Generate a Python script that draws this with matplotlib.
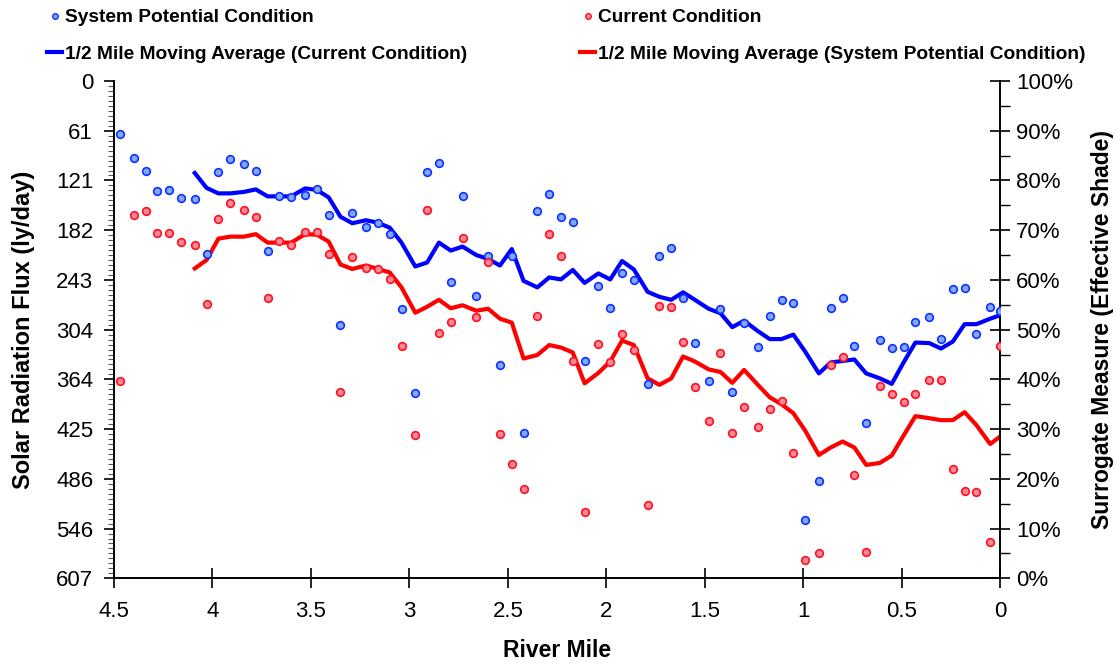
import matplotlib
matplotlib.use('Agg')
import matplotlib.pyplot as plt
import numpy as np
from matplotlib.lines import Line2D
from matplotlib.ticker import FixedLocator, FuncFormatter

plt.rcParams['font.family'] = ['Liberation Sans', 'DejaVu Sans']

# River mile of each sample (about 100 m apart).
miles = [4.47, 4.40, 4.34, 4.28, 4.22, 4.16, 4.09, 4.03, 3.97, 3.91,
         3.84, 3.78, 3.72, 3.66, 3.60, 3.53, 3.47, 3.41, 3.35, 3.29,
         3.22, 3.16, 3.10, 3.04, 2.97, 2.91, 2.85, 2.79, 2.73, 2.66,
         2.60, 2.54, 2.48, 2.42, 2.35, 2.29, 2.23, 2.17, 2.11, 2.04,
         1.98, 1.92, 1.86, 1.79, 1.73, 1.67, 1.61, 1.55, 1.48, 1.42,
         1.36, 1.30, 1.23, 1.17, 1.11, 1.05, 0.99, 0.92, 0.86, 0.80,
         0.74, 0.68, 0.61, 0.55, 0.49, 0.43, 0.36, 0.30, 0.24, 0.18,
         0.12, 0.05, 0.00]

# Effective shade (%) - system potential condition
shade_potential = [89.3, 84.5, 81.9, 77.8, 78.1, 76.4, 76.2, 65.3, 81.6, 84.3,
                   83.3, 81.9, 65.8, 76.9, 76.6, 77.1, 78.2, 73.1, 51.0, 73.5,
                   70.6, 71.4, 69.2, 54.1, 37.3, 81.8, 83.5, 59.6, 76.9, 56.7,
                   64.9, 42.8, 64.9, 29.2, 73.8, 77.3, 72.6, 71.6, 43.7, 58.8,
                   54.3, 61.3, 60.0, 39.0, 64.8, 66.4, 56.4, 47.3, 39.7, 54.2,
                   37.5, 51.4, 46.6, 52.7, 56.0, 55.4, 11.7, 19.6, 54.4, 56.3,
                   46.8, 31.2, 47.9, 46.3, 46.6, 51.5, 52.5, 48.2, 58.2, 58.4,
                   49.1, 54.6, 53.7]

# Effective shade (%) - current condition
shade_current = [39.7, 73.1, 73.8, 69.5, 69.5, 67.6, 67.0, 55.1, 72.2, 75.5,
                 74.1, 72.7, 56.3, 67.9, 67.0, 69.6, 69.6, 65.3, 37.5, 64.6,
                 62.3, 62.2, 60.2, 46.8, 28.8, 74.1, 49.4, 51.5, 68.4, 52.5,
                 63.7, 29.0, 22.9, 17.9, 52.7, 69.2, 64.8, 43.7, 13.4, 47.1,
                 43.4, 49.1, 46.0, 14.8, 54.8, 54.6, 47.5, 38.5, 31.6, 45.4,
                 29.2, 34.4, 30.4, 34.0, 35.7, 25.2, 3.7, 5.1, 42.9, 44.5,
                 20.7, 5.3, 38.7, 37.1, 35.4, 37.1, 39.9, 39.9, 21.9, 17.6,
                 17.4, 7.2, 46.8]

# 1/2 mile moving averages (first six samples have no average)
avg_blue = [None, None, None, None, None, None, 81.5, 78.5, 77.4, 77.4,
            77.7, 78.2, 76.8, 76.8, 76.8, 78.4, 78.1, 76.6, 72.7, 71.4,
            72.0, 71.5, 70.5, 67.5, 62.7, 63.5, 67.5, 65.9, 66.7, 65.0,
            64.2, 62.9, 66.2, 59.8, 58.5, 60.5, 60.1, 62.0, 59.4, 61.3,
            60.1, 63.8, 62.1, 57.6, 56.6, 56.0, 57.5, 56.0, 54.2, 53.3,
            50.5, 51.8, 49.7, 48.1, 48.1, 49.0, 45.6, 41.2, 43.4, 43.7,
            44.0, 41.2, 40.2, 39.1, 43.4, 47.4, 47.3, 46.2, 47.6, 51.1,
            51.1, 52.2, 52.9]

avg_red = [None, None, None, None, None, None, 62.3, 64.0, 68.3, 68.7,
           68.7, 69.2, 67.5, 67.5, 67.5, 69.2, 69.1, 67.7, 63.1, 62.2,
           62.9, 62.2, 61.5, 58.5, 53.4, 54.6, 56.0, 54.3, 54.9, 53.8,
           54.2, 52.2, 51.4, 44.2, 44.9, 46.9, 46.4, 45.4, 39.2, 41.3,
           43.6, 47.8, 46.9, 40.2, 38.9, 40.2, 44.6, 43.6, 42.0, 41.5,
           39.3, 41.9, 38.9, 36.4, 35.0, 33.2, 29.7, 24.8, 26.3, 27.5,
           26.3, 22.8, 23.2, 24.7, 28.7, 32.6, 32.2, 31.8, 31.8, 33.4,
           30.8, 27.0, 28.5]

flux_max = 607
flux_ticks = [0, 61, 121, 182, 243, 304, 364, 425, 486, 546, 607]

fig = plt.figure(figsize=(11.17, 6.65), dpi=100)
ax = fig.add_axes([0.1021, 0.1304, 0.7932, 0.7478])
ax2 = ax.twinx()

# left axis: flux, zero at top
ax.set_xlim(4.5, 0)
ax.set_ylim(flux_max, 0)
ax.yaxis.set_major_locator(FixedLocator(np.linspace(0, flux_max, 11)))
ax.set_yticklabels([str(t) for t in flux_ticks])
ax.yaxis.set_minor_locator(FixedLocator(np.linspace(0, flux_max, 101)))
ax.set_xticks(np.arange(0, 4.51, 0.5))
ax.set_xticklabels(['0', '0.5', '1', '1.5', '2', '2.5', '3', '3.5', '4', '4.5'])
ax.tick_params(axis='y', which='major', direction='out', length=7, width=1.2,
               labelsize=16, pad=8)
ax.tick_params(axis='y', which='minor', direction='out', length=4, width=0.8, color='#555555')
ax.tick_params(axis='x', which='major', direction='inout', length=15, width=1.2,
               labelsize=16, pad=9)
ax.set_xlabel('River Mile', fontsize=16.5, fontweight='bold', labelpad=12)
ax.set_ylabel('Solar Radiation Flux (ly/day)', fontsize=17, fontweight='bold', labelpad=15)

# right axis: effective shade %
ax2.set_ylim(0, 100)
ax2.set_yticks(np.arange(0, 101, 10))
ax2.yaxis.set_major_formatter(FuncFormatter(lambda v, p: '%d%%' % v))
ax2.set_yticks(np.arange(5, 100, 10), minor=True)
ax2.tick_params(axis='y', which='major', direction='inout', length=15, width=1.2,
                labelsize=16, pad=4)
ax2.tick_params(axis='y', which='minor', direction='out', length=7, width=1.0)
ax2.set_ylabel('Surrogate Measure (Effective Shade)', fontsize=16.5, fontweight='bold',
               labelpad=13)

for a in (ax, ax2):
    a.spines['top'].set_visible(False)
    for s in ('left', 'right', 'bottom'):
        a.spines[s].set_linewidth(1.2)

ax2.plot(miles, np.array(avg_blue, dtype=float), color='#0000ff', lw=3, zorder=2)
ax2.plot(miles, np.array(avg_red, dtype=float), color='#ff0000', lw=3, zorder=2)
ax2.plot(miles, shade_potential, 'o', ms=5.5, mec='#1030ff', mfc='#80a8ff', mew=1.2, zorder=3)
ax2.plot(miles, shade_current, 'o', ms=5.5, mec='#ff1020', mfc='#ff8898', mew=1.2, zorder=3)

# legend in two columns above the plot
h_pot = Line2D([], [], ls='none', marker='o', ms=4, mec='#1030ff', mfc='#80a8ff', mew=1)
h_cur = Line2D([], [], ls='none', marker='o', ms=4, mec='#ff1020', mfc='#ff8898', mew=1)
h_blue = Line2D([], [], color='#0000ff', lw=3)
h_red = Line2D([], [], color='#ff0000', lw=3)
leg_kw = dict(loc='upper left', frameon=False, handlelength=0.8,
              handletextpad=0.15, labelspacing=1.0, borderpad=0, borderaxespad=0,
              prop={'weight': 'bold', 'size': 13.8})
leg1 = fig.legend([h_pot, h_blue], ['System Potential Condition',
                                    '1/2 Mile Moving Average (Current Condition)'],
                  bbox_to_anchor=(47 / 1117, 1 - 9 / 665), **leg_kw)
leg2 = fig.legend([h_cur, h_red], ['Current Condition',
                                   '1/2 Mile Moving Average (System Potential Condition)'],
                  bbox_to_anchor=(580 / 1117, 1 - 9 / 665), **leg_kw)

fig.savefig('out.png', dpi=100)
